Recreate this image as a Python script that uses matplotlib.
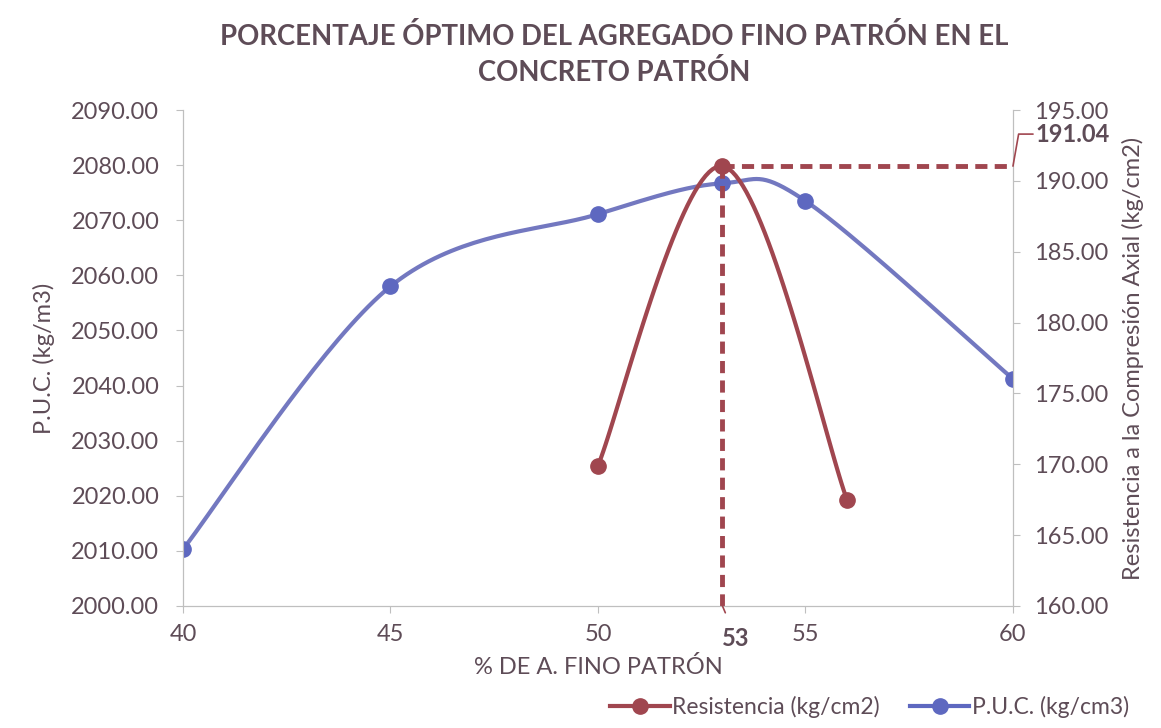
import matplotlib.pyplot as plt
import numpy as np

plt.rcParams['font.family'] = ['Lato', 'DejaVu Sans']

# P.U.C. (left axis)
puc_x = [40, 45, 50, 53, 55, 60]
puc_y = [2010.3, 2058.0, 2071.1, 2076.7, 2073.5, 2041.2]

# Resistencia (right axis)
res_x = [50, 53, 56]
res_y = [169.9, 191.04, 167.5]

opt_x = 53
opt_res = 191.04

TXT = '#5e4c57'
RED = '#a0464f'
BLUE = '#7378c0'
BLUE_M = '#5e68c0'
SPINE = '#bfbfbf'


def smooth(x, y, n=40):
    # Excel style smoothed line (cubic bezier, 1/6 control points)
    p = np.column_stack([x, y]).astype(float)
    p = np.vstack([p[0], p, p[-1]])
    out = []
    for i in range(1, len(p) - 2):
        p0, p1, p2, p3 = p[i - 1], p[i], p[i + 1], p[i + 2]
        c1 = p1 + (p2 - p0) / 6
        c2 = p2 - (p3 - p1) / 6
        t = np.linspace(0, 1, n)[:, None]
        seg = (1 - t) ** 3 * p1 + 3 * (1 - t) ** 2 * t * c1 + 3 * (1 - t) * t ** 2 * c2 + t ** 3 * p2
        out.append(seg)
    out = np.vstack(out)
    return out[:, 0], out[:, 1]


fig = plt.figure(figsize=(11.61, 7.28), dpi=100)
ax = fig.add_axes([0.1576, 0.1676, 0.7149, 0.6813])
ax2 = ax.twinx()

sx, sy = smooth(puc_x, puc_y)
ax.plot(sx, sy, color=BLUE, lw=3, zorder=2)
ax.plot(puc_x, puc_y, 'o', color=BLUE_M, ms=11, zorder=3)

rx, ry = smooth(res_x, res_y)
ax2.plot(rx, ry, color=RED, lw=3, zorder=2)
ax2.plot(res_x, res_y, 'o', color=RED, ms=11, zorder=3)

# optimum guides
ax2.plot([opt_x, opt_x], [160, opt_res], color=RED, lw=3.5, ls=(0, (2.5, 1.5)), zorder=1)
ax2.plot([opt_x, 60], [opt_res, opt_res], color=RED, lw=3.5, ls=(0, (2.5, 1.5)), zorder=1)

ax.set_xlim(40, 60)
ax.set_ylim(2000, 2090)
ax2.set_ylim(160, 195)
ax.set_xticks([40, 45, 50, 55, 60])
ax.set_yticks(np.arange(2000, 2091, 10))
ax2.set_yticks(np.arange(160, 196, 5))
ax.yaxis.set_major_formatter(lambda v, p: f'{v:.2f}')
ax2.yaxis.set_major_formatter(lambda v, p: f'{v:.2f}')

for a in (ax, ax2):
    for s in a.spines.values():
        s.set_color(SPINE)
    a.spines['top'].set_visible(False)
    a.tick_params(colors=SPINE, labelcolor=TXT, labelsize=17, length=5)
ax.tick_params(axis='y', pad=12)
ax2.tick_params(axis='y', pad=10)
ax.tick_params(axis='x', pad=8)

ax.set_xlabel('% DE A. FINO PATRÓN', color=TXT, fontsize=17, labelpad=8)
ax.set_ylabel('P.U.C. (kg/m3)', color=TXT, fontsize=17, labelpad=12)
ax2.set_ylabel('Resistencia a la Compresión Axial (kg/cm2)', color=TXT, fontsize=17, labelpad=10)

fig.text(0.529, 0.925, 'PORCENTAJE ÓPTIMO DEL AGREGADO FINO PATRÓN EN EL\nCONCRETO PATRÓN',
         ha='center', va='center', fontsize=19.8, fontweight='bold', color=TXT, linespacing=1.4)

# labels for the optimum
ax2.annotate(f'{opt_res:.2f}', xy=(60, opt_res), xytext=(60.55, 193.3), xycoords='data',
             fontsize=17, fontweight='bold', color=TXT, va='center', ha='left', annotation_clip=False,
             arrowprops=dict(arrowstyle='-', color=RED, lw=1.2, shrinkA=0, shrinkB=0,
                             connectionstyle='angle,angleA=0,angleB=80,rad=0'))
ax2.annotate(f'{opt_x}', xy=(opt_x, 160), xytext=(opt_x + 0.33, 157.7), xycoords='data',
             fontsize=17, fontweight='bold', color=TXT, va='center', ha='center', annotation_clip=False,
             arrowprops=dict(arrowstyle='-', color=RED, lw=1.2, shrinkA=9, shrinkB=0))

ax.plot([], [], '-o', color=RED, lw=3, ms=11, label='Resistencia (kg/cm2)')
ax.plot([], [], '-o', color=BLUE_M, lw=3, ms=11, label='P.U.C. (kg/cm3)')
fig.legend(loc='lower right', bbox_to_anchor=(0.99, -0.014), ncol=2, frameon=False,
           fontsize=16.5, labelcolor=TXT, handlelength=2.6, handletextpad=0.1, columnspacing=1.3)

fig.savefig('out.png', dpi=100)
